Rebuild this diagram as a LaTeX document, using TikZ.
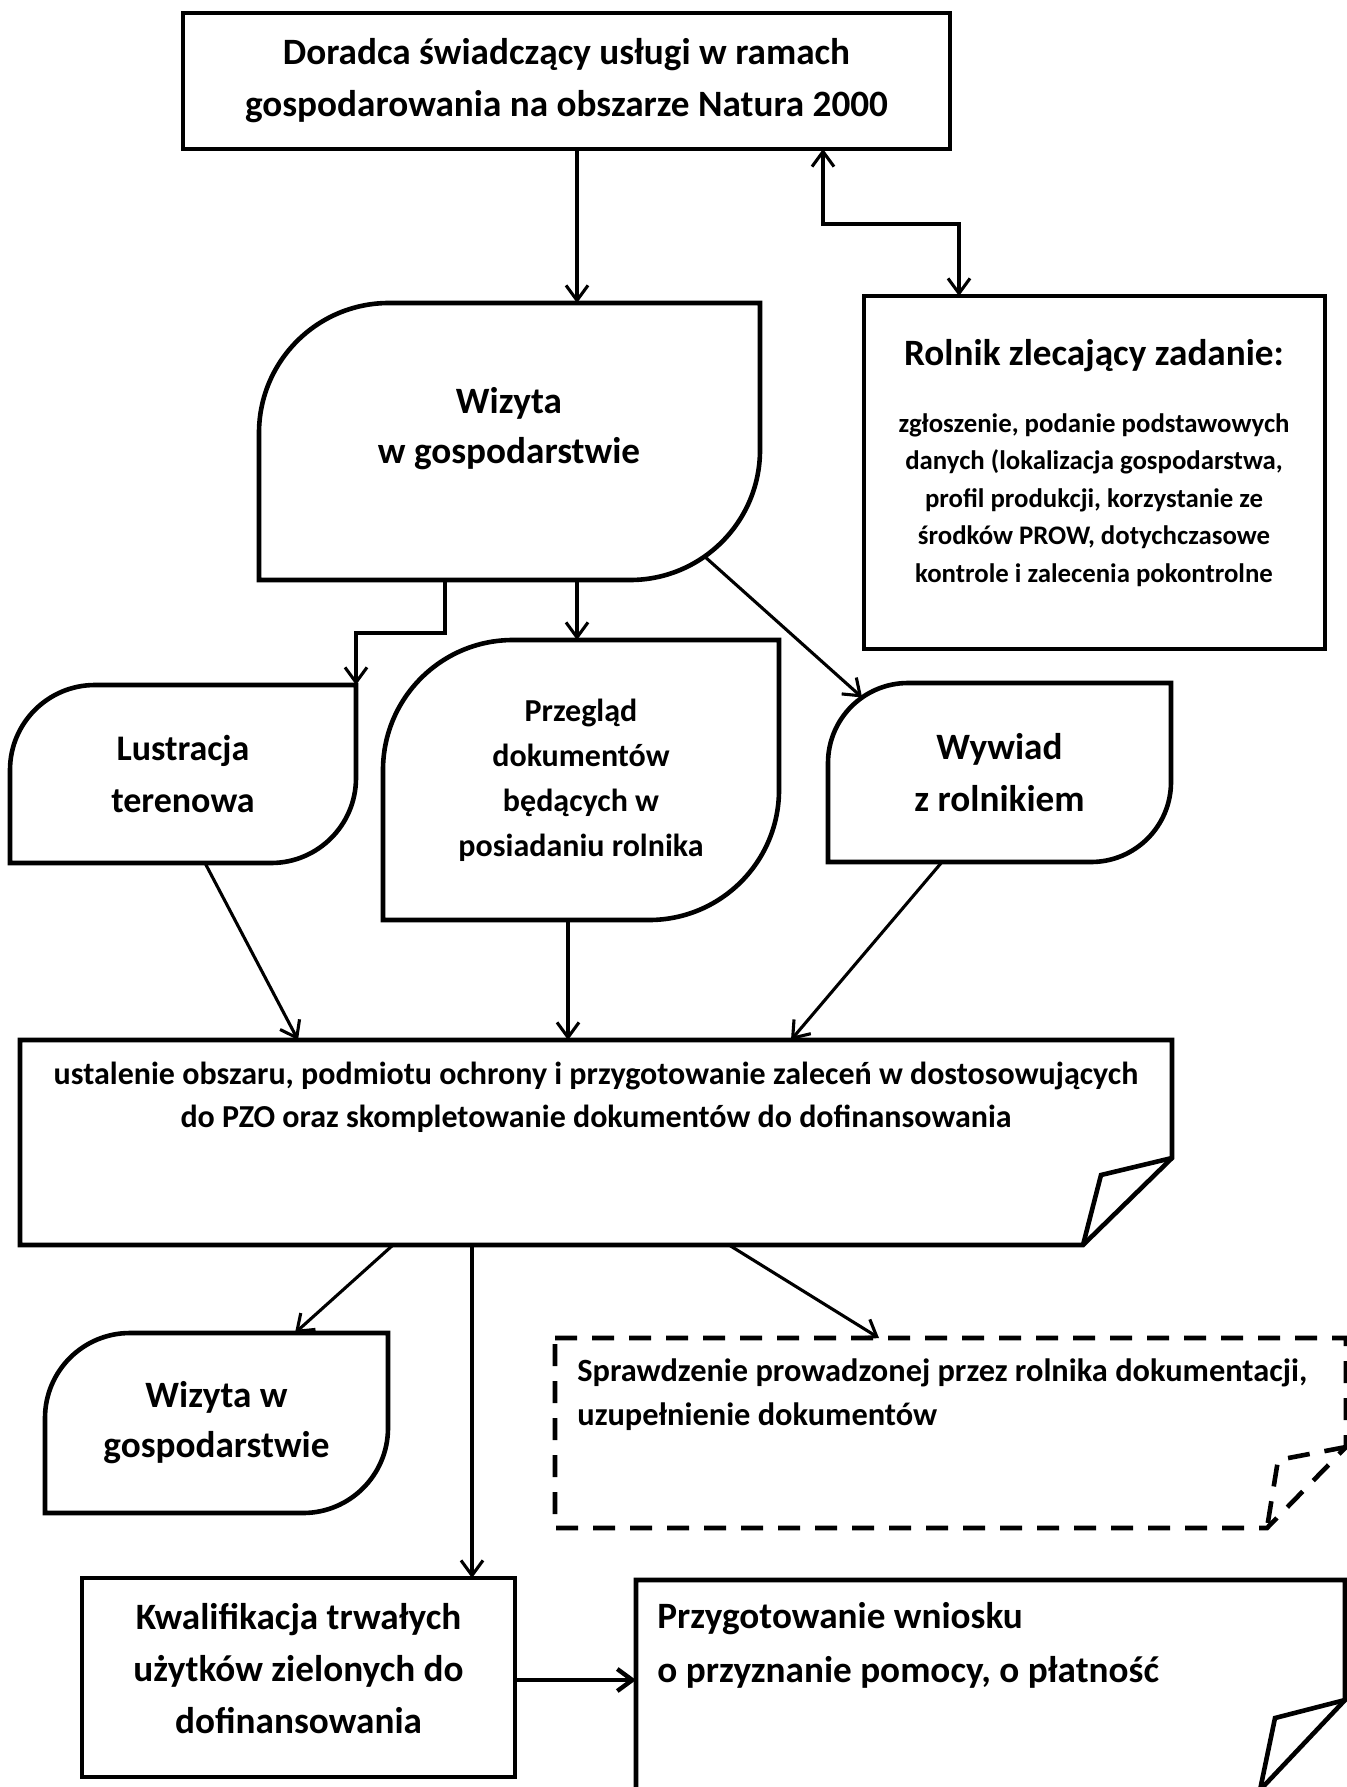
\documentclass[tikz,border=0pt]{standalone}
\usepackage{fontspec}
\setmainfont{Carlito}
\usetikzlibrary{arrows.meta,calc}
\newcommand\rdbox[2]{%
  \draw[boxline] ([xshift=#2]#1.north west) -- (#1.north east) -- ([yshift=#2]#1.south east)
    arc[start angle=0,end angle=-90,radius=#2] -- (#1.south west) -- ([yshift=-#2]#1.north west)
    arc[start angle=180,end angle=90,radius=#2] -- cycle;}
\begin{document}
\begin{tikzpicture}[x=0.5pt,y=-0.5pt,
  frame/.style={draw=none, inner sep=0pt, outer sep=0pt, align=center},
  boxline/.style={line width=2.3pt, line join=miter},
  rectbox/.style={frame, draw, line width=2.3pt},
  conn/.style={line width=1.55pt, -{Straight Barb[length=7.5pt,width=11pt]}},
  fA/.style={font=\bfseries\fontsize{18.6}{26}\selectfont},
  fL/.style={font=\bfseries\fontsize{18}{26}\selectfont},
  fW/.style={font=\bfseries\fontsize{18.6}{25}\selectfont},
  fB/.style={font=\bfseries\fontsize{16}{22.5}\selectfont},
  fC/.style={font=\bfseries\fontsize{16}{21.5}\selectfont},
  fS/.style={font=\bfseries\fontsize{13.4}{18.75}\selectfont},
  txt/.style={inner sep=0pt, align=center}
]
\useasboundingbox (0,0) rectangle (1347,1787);
\fill[white] (0,0) rectangle (1347,1787);
\clip (0,0) rectangle (1347,1787);

% ---- nodes ----
\node[rectbox, fA, minimum width=383.5pt, minimum height=68pt] (doradca) at (566.5,81)
  {Doradca świadczący usługi w ramach\\gospodarowania na obszarze Natura 2000};
\node[frame, minimum width=250.5pt, minimum height=138.5pt] (wiz) at (509.5,441.5) {};
\node[txt, fW] (wizT) at (509,429) {Wizyta\\w gospodarstwie};
\node[rectbox, minimum width=230.5pt, minimum height=176.5pt] (rolnik) at (1094.5,472.5) {};
\node[txt, fA] (rolnikT) at (1094,356) {Rolnik zlecający zadanie:};
\node[txt, fS] (rolnikB) at (1094,500) {zgłoszenie, podanie podstawowych\\danych (lokalizacja gospodarstwa,\\profil produkcji, korzystanie ze\\środków PROW, dotychczasowe\\kontrole i zalecenia pokontrolne};
\node[frame, fL, minimum width=173pt, minimum height=89pt] (lustr) at (183,774) {Lustracja\\terenowa};
\node[frame, fB, minimum width=198pt, minimum height=140pt] (przeg) at (581,780) {Przegląd\\dokumentów\\będących w\\posiadaniu rolnika};
\node[frame, fA, minimum width=171.5pt, minimum height=89.5pt] (wyw) at (999.5,772.5) {Wywiad\\z rolnikiem};
\node[frame, minimum width=576pt, minimum height=102.5pt] (big) at (596,1142.5) {};
\node[txt, fC] (bigT) at (596,1097) {ustalenie obszaru, podmiotu ochrony i przygotowanie zaleceń w dostosowujących\\do PZO oraz skompletowanie dokumentów do dofinansowania};
\node[frame, fW, minimum width=171.5pt, minimum height=90pt] (wiz2) at (216.5,1423) {Wizyta w\\gospodarstwie};
\node[frame, minimum width=395.5pt, minimum height=95pt] (sprawdz) at (950.5,1433) {};
\node[txt, font=\bfseries\fontsize{16.2}{22}\selectfont, align=left, anchor=west] (sprawdzT) at (577,1395) {Sprawdzenie prowadzonej przez rolnika dokumentacji,\\uzupełnienie dokumentów};
\node[rectbox, minimum width=216.5pt, minimum height=99.5pt] (kwal) at (298.5,1677.5) {};
\node[txt, fA] (kwalT) at (298.5,1669) {Kwalifikacja trwałych\\użytków zielonych do\\dofinansowania};
\node[frame, minimum width=354.5pt, minimum height=105pt] (przyg) at (990.5,1685) {};
\node[txt, font=\bfseries\fontsize{18.6}{27}\selectfont, align=left, anchor=west] (przygT) at (657,1645) {Przygotowanie wniosku\\o przyznanie pomocy, o płatność};

% ---- outlines ----
\rdbox{wiz}{65pt}
\rdbox{lustr}{42.5pt}
\rdbox{przeg}{65pt}
\rdbox{wyw}{40pt}
\rdbox{wiz2}{42.5pt}
% big box with folded corner
\draw[boxline] (big.north west) -- (big.north east) -- ([yshift=43.5pt]big.south east)
  -- ([xshift=-44.5pt]big.south east) -- (big.south west) -- cycle;
\draw[boxline] ([yshift=43.5pt]big.south east) -- ([xshift=-35.5pt,yshift=35pt]big.south east)
  -- ([xshift=-44.5pt]big.south east);
% dashed box with folded corner
\draw[boxline, dash pattern=on 11pt off 7.5pt] (sprawdz.north west) -- (sprawdz.north east) -- ([yshift=40.5pt]sprawdz.south east)
  -- ([xshift=-39.5pt]sprawdz.south east) -- (sprawdz.south west) -- cycle;
\draw[boxline, dash pattern=on 11pt off 7.5pt] ([yshift=40.5pt]sprawdz.south east) -- ([xshift=-34pt,yshift=34pt]sprawdz.south east)
  -- ([xshift=-39.5pt]sprawdz.south east);
% przygotowanie box with folded corner
\draw[boxline] (przyg.north west) -- (przyg.north east) -- ([yshift=45pt]przyg.south east)
  -- ([xshift=-42.5pt]przyg.south east) -- (przyg.south west) -- cycle;
\draw[boxline] ([yshift=45pt]przyg.south east) -- ([xshift=-35pt,yshift=36pt]przyg.south east)
  -- ([xshift=-42.5pt]przyg.south east);

% ---- connectors ----
\draw[conn] ([xshift=197pt]doradca.south west) -- ([xshift=159pt]wiz.north west);
\draw[conn, {Straight Barb[length=7.5pt,width=11pt]}-{Straight Barb[length=7.5pt,width=11pt]}]
  ([xshift=320pt]doradca.south west) -- ++(0,75) -| ([xshift=47.5pt]rolnik.north west);
\draw[conn] ([xshift=93pt]wiz.south west) -- ++(0,53) -| (lustr.north east);
\draw[conn] ([xshift=159pt]wiz.south west) -- ([xshift=97pt]przeg.north west);
\draw[conn] ($(wiz.south east)+(-65pt,65pt)+(-55:65pt)$) -- ($(wyw.north west)+(40pt,-40pt)+(125:40pt)$);
\draw[conn] ([xshift=97.5pt]lustr.south west) -- ([xshift=139pt]big.north west);
\draw[conn] ([xshift=92.5pt]przeg.south west) -- ([xshift=274pt]big.north west);
\draw[conn] ([xshift=57pt]wyw.south west) -- ([xshift=385.5pt]big.north west);
\draw[conn] ([xshift=186.5pt]big.south west) -- ([xshift=125pt]wiz2.north west);
\draw[conn] ([xshift=226pt]big.south west) -- ([xshift=195pt]kwal.north west);
\draw[conn] ([xshift=354.5pt]big.south west) -- ([xshift=162pt]sprawdz.north west);
\draw[conn, line width=2.2pt] ([yshift=-51pt]kwal.north east) coordinate (kq) -- (kq -| przyg.west);
\end{tikzpicture}
\end{document}
